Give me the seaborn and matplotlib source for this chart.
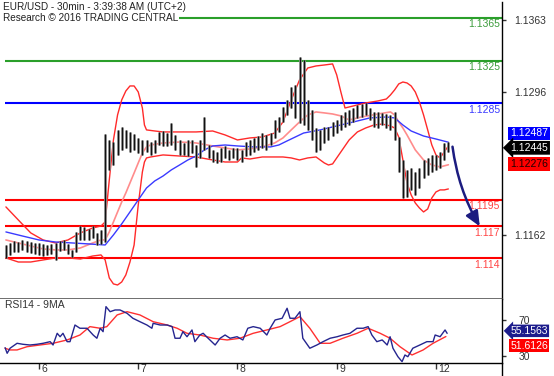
import matplotlib
matplotlib.use("Agg")
import matplotlib.pyplot as plt
import matplotlib.transforms as mtransforms
from matplotlib.lines import Line2D
import seaborn as sns
import numpy as np

sns.set_style("white")
plt.rcParams['font.family'] = ['Liberation Sans', 'DejaVu Sans']

# ---------------- data (x in trading hours from start of day "6") ----------------
day_ticks = [0, 24, 48, 72, 96]
day_labels = ["6", "7", "8", "9", "12"]

bar_hours = list(range(-8, 100))
bar_high = [1.11526, 1.11545, 1.11564, 1.11554, 1.11573, 1.11564, 1.11554, 1.11545, 1.11545, 1.11536,
            1.11526, 1.11536, 1.11545, 1.11564, 1.11573, 1.11536, 1.11480, 1.11648, 1.11704, 1.11694,
            1.11676, 1.11704, 1.11639, 1.11667, 1.12564, 1.12508, 1.12489, 1.12602, 1.12630, 1.12602,
            1.12583, 1.12564, 1.12527, 1.12508, 1.12508, 1.12489, 1.12508, 1.12583, 1.12592, 1.12573,
            1.12667, 1.12555, 1.12508, 1.12480, 1.12508, 1.12508, 1.12461, 1.12508, 1.12723, 1.12461,
            1.12415, 1.12396, 1.12433, 1.12452, 1.12415, 1.12433, 1.12433, 1.12415, 1.12489, 1.12508,
            1.12527, 1.12545, 1.12573, 1.12555, 1.12573, 1.12695, 1.12723, 1.12817, 1.12882, 1.13004,
            1.13022, 1.13284, 1.13256, 1.12882, 1.12789, 1.12620, 1.12602, 1.12630, 1.12630, 1.12676,
            1.12695, 1.12742, 1.12770, 1.12789, 1.12807, 1.12835, 1.12845, 1.12854, 1.12807, 1.12770,
            1.12770, 1.12761, 1.12751, 1.12742, 1.12770, 1.12536, 1.12321, 1.12228, 1.12246, 1.12209,
            1.12246, 1.12321, 1.12340, 1.12368, 1.12368, 1.12396, 1.12480, 1.12489]
bar_low = [1.11405, 1.11433, 1.11461, 1.11461, 1.11480, 1.11461, 1.11452, 1.11442, 1.11433, 1.11423,
           1.11433, 1.11442, 1.11386, 1.11470, 1.11480, 1.11442, 1.11414, 1.11461, 1.11573, 1.11573,
           1.11573, 1.11592, 1.11526, 1.11536, 1.11554, 1.12228, 1.12274, 1.12368, 1.12415, 1.12433,
           1.12396, 1.12415, 1.12386, 1.12368, 1.12396, 1.12368, 1.12386, 1.12461, 1.12452, 1.12452,
           1.12461, 1.12415, 1.12368, 1.12368, 1.12358, 1.12386, 1.12256, 1.12340, 1.12415, 1.12340,
           1.12302, 1.12293, 1.12302, 1.12340, 1.12321, 1.12340, 1.12321, 1.12302, 1.12358, 1.12368,
           1.12396, 1.12415, 1.12433, 1.12415, 1.12461, 1.12527, 1.12583, 1.12676, 1.12742, 1.12807,
           1.12714, 1.12667, 1.12648, 1.12602, 1.12508, 1.12396, 1.12415, 1.12480, 1.12508, 1.12545,
           1.12573, 1.12602, 1.12630, 1.12648, 1.12676, 1.12714, 1.12723, 1.12742, 1.12695, 1.12630,
           1.12620, 1.12648, 1.12620, 1.12602, 1.12508, 1.12209, 1.11966, 1.11975, 1.12041, 1.11994,
           1.12059, 1.12153, 1.12181, 1.12209, 1.12228, 1.12246, 1.12321, 1.12396]
last_close = 1.12445

upper_hours = [-8, -5, -2, 1, 4, 7, 10, 13, 15, 16, 17, 18, 19, 20, 21, 22, 23, 24, 25, 25.5,
               26, 28, 30, 34, 38, 42, 45, 48, 51, 54, 57, 59, 61, 63, 65, 67, 69, 71, 72, 73,
               74, 76, 79, 82, 84, 85, 86, 87, 88, 89, 90, 91, 92, 93, 94, 95, 96, 97, 98, 99]
upper_band = [1.11882, 1.11760, 1.11639, 1.11573, 1.11545, 1.11573, 1.11639, 1.11685, 1.11704, 1.11741,
              1.12134, 1.12508, 1.12742, 1.12882, 1.12966, 1.13013, 1.13013, 1.12957, 1.12807, 1.12648,
              1.12602, 1.12592, 1.12583, 1.12583, 1.12583, 1.12592, 1.12555, 1.12508, 1.12527, 1.12536,
              1.12573, 1.12676, 1.12882, 1.13069, 1.13181, 1.13200, 1.13209, 1.13219, 1.13116, 1.12957,
              1.12807, 1.12826, 1.12854, 1.12873, 1.12891, 1.12929, 1.12976, 1.13032, 1.13050, 1.13041,
              1.13013, 1.12957, 1.12863, 1.12742, 1.12602, 1.12461, 1.12368, 1.12340, 1.12396, 1.12452]

middle_hours = [-8, -5, -2, 1, 4, 7, 10, 13, 15, 16, 17, 18, 19, 20, 21, 22, 23, 24, 25, 26,
                27, 30, 34, 38, 42, 45, 48, 51, 54, 57, 59, 61, 63, 65, 67, 69, 71, 73, 75, 78,
                82, 85, 86, 87, 88, 89, 91, 93, 95, 97, 99]
middle_band = [1.11573, 1.11545, 1.11517, 1.11489, 1.11480, 1.11480, 1.11498, 1.11545, 1.11573, 1.11573,
               1.11648, 1.11741, 1.11835, 1.11928, 1.12013, 1.12106, 1.12199, 1.12293, 1.12386, 1.12443,
               1.12461, 1.12480, 1.12489, 1.12480, 1.12452, 1.12433, 1.12415, 1.12424, 1.12443, 1.12480,
               1.12527, 1.12602, 1.12676, 1.12742, 1.12770, 1.12761, 1.12751, 1.12733, 1.12695, 1.12723,
               1.12751, 1.12770, 1.12742, 1.12676, 1.12620, 1.12555, 1.12415, 1.12321, 1.12274, 1.12256,
               1.12276]

lower_hours = [-8, -5, -2, 1, 4, 7, 10, 13, 15, 16, 17, 18, 19, 20, 21, 22, 23, 24, 25, 25.5,
               26, 27, 30, 34, 38, 42, 45, 48, 49, 51, 54, 57, 59, 61, 63, 65, 67, 69, 70, 71,
               73, 75, 77, 79, 81, 83, 85, 86, 87, 88, 89, 90, 91, 92, 93, 94, 95, 96, 97, 98, 99]
lower_band = [1.11405, 1.11367, 1.11367, 1.11386, 1.11405, 1.11405, 1.11395, 1.11423, 1.11433, 1.11386,
              1.11218, 1.11162, 1.11152, 1.11180, 1.11246, 1.11367, 1.11526, 1.11900, 1.12209, 1.12302,
              1.12340, 1.12349, 1.12368, 1.12358, 1.12349, 1.12321, 1.12302, 1.12302, 1.12340, 1.12330,
              1.12349, 1.12349, 1.12349, 1.12340, 1.12321, 1.12340, 1.12349, 1.12293, 1.12274, 1.12284,
              1.12396, 1.12508, 1.12583, 1.12620, 1.12648, 1.12657, 1.12639, 1.12620, 1.12536, 1.12321,
              1.12106, 1.11994, 1.11919, 1.11872, 1.11835, 1.11863, 1.11966, 1.12022, 1.12041, 1.12041,
              1.12050]

ma_hours = [-8, -4, 0, 4, 8, 12, 16, 18, 20, 22, 24, 26, 28, 30, 32, 34, 36, 38, 40, 42,
            45, 48, 52, 56, 58, 60, 62, 64, 68, 72, 76, 80, 84, 86, 88, 90, 93, 96, 99]
ma_line = [1.11648, 1.11610, 1.11573, 1.11554, 1.11545, 1.11536, 1.11526, 1.11620, 1.11723, 1.11835,
           1.11947, 1.12059, 1.12125, 1.12171, 1.12228, 1.12274, 1.12321, 1.12358, 1.12415, 1.12452,
           1.12461, 1.12452, 1.12443, 1.12443, 1.12461, 1.12499, 1.12536, 1.12573, 1.12602, 1.12639,
           1.12676, 1.12714, 1.12723, 1.12714, 1.12648, 1.12592, 1.12545, 1.12517, 1.12487]

levels = [1.1365, 1.1325, 1.1285, 1.1195, 1.117, 1.114]
level_labels = ["1.1365", "1.1325", "1.1285", "1.1195", "1.117", "1.114"]
level_colors = ["#2a9f2a", "#2a9f2a", "#0000ff", "#ff0000", "#ff0000", "#ff0000"]
level_text_colors = ["#3c9c3c", "#3c9c3c", "#3a3aff", "#ff4444", "#ff4444", "#ff4444"]
target_level = 1.117

price_ticks = [1.1363, 1.1296, 1.1162]
value_labels = {"ma": 1.12487, "close": 1.12445, "mid": 1.12276}

rsi_hours = [-8.2, -7.7, -7.0, -5.3, -3.9, -2.2, -0.5, 1.0, 2.7, 3.4,
             4.4, 5.1, 5.8, 6.8, 7.5, 8.7, 9.9, 11.6, 13.1, 14.0,
             14.8, 15.5, 16.2, 17.2, 18.4, 19.6, 21.3, 22.7, 24.4, 26.1,
             27.3, 27.6, 29.3, 31.0, 32.2, 32.9, 34.1, 34.8, 35.8, 37.0,
             37.7, 38.9, 39.7, 40.9, 42.6, 43.8, 45.0, 46.2, 47.9, 49.3,
             50.5, 51.8, 53.5, 55.1, 55.9, 57.1, 58.8, 60.0, 60.7, 61.9,
             63.1, 63.8, 65.5, 67.2, 68.7, 70.4, 72.1, 73.5, 75.2, 76.9,
             78.4, 79.6, 80.5, 81.7, 83.0, 84.2, 84.9, 85.6, 86.8, 87.8,
             88.5, 89.2, 90.4, 92.1, 93.8, 95.3, 95.8, 97.0, 98.2, 98.7]
rsi_vals = [39.2, 33.0, 38.6, 44.1, 43.0, 42.2, 43.0, 44.1, 45.9, 42.2,
            55.2, 51.4, 55.2, 45.9, 45.9, 64.4, 60.8, 60.8, 53.3, 49.7,
            60.8, 57.0, 84.8, 79.2, 81.1, 81.1, 77.4, 71.9, 68.1, 64.4,
            60.8, 66.3, 64.4, 64.4, 62.6, 49.7, 49.7, 57.0, 51.4, 58.9,
            45.9, 53.3, 55.2, 49.7, 42.2, 49.7, 53.3, 49.7, 51.4, 47.8,
            60.8, 62.6, 60.8, 53.3, 60.8, 70.0, 71.9, 83.0, 71.9, 71.9,
            79.2, 49.7, 38.6, 42.2, 45.9, 49.7, 51.4, 53.3, 55.2, 60.8,
            60.8, 62.6, 53.3, 45.9, 47.8, 42.2, 51.4, 38.6, 29.2, 23.7,
            31.1, 29.2, 38.6, 42.2, 45.9, 45.9, 53.3, 51.4, 58.9, 55.1563]
rsi_ma_hours = [-8.2, -7.0, -5.3, -2.9, 0.2, 3.4, 6.8, 9.9, 12.3, 14.8,
                16.4, 18.9, 21.3, 24.4, 27.6, 31.0, 33.4, 35.8, 38.9, 42.1,
                45.5, 48.6, 51.8, 55.1, 58.3, 60.7, 63.1, 65.5, 68.0, 70.4,
                73.5, 76.9, 79.6, 82.5, 84.9, 87.3, 90.2, 92.9, 95.3, 98.4]
rsi_ma_vals = [38.6, 36.7, 36.7, 40.3, 42.2, 44.1, 47.8, 53.3, 62.6, 60.8,
               62.6, 75.6, 79.2, 75.6, 68.1, 64.4, 60.8, 55.2, 53.3, 49.7,
               47.8, 49.7, 55.2, 58.9, 62.6, 68.1, 73.7, 60.8, 44.1, 44.1,
               49.7, 55.2, 60.8, 55.2, 49.7, 40.3, 31.1, 36.7, 44.1, 51.6126]
rsi_ticks = [70, 30]

# ---------------- figure ----------------
W, H = 554, 376
fig = plt.figure(figsize=(W / 100, H / 100), dpi=100)


def px_axes(x0, y0, x1, y1):
    return fig.add_axes([x0 / W, 1 - y1 / H, (x1 - x0) / W, (y1 - y0) / H])


ax = px_axes(0, 2, 502, 299)
rx = px_axes(0, 299, 502, 363)
XLIM = (-9.43, 111.97)
for a in (ax, rx):
    a.set_xlim(*XLIM)
    a.set_facecolor("white")
ax.set_ylim(1.11021, 1.13798)
rx.set_ylim(22.2, 93.3)

# level lines
ax.hlines(levels, xmin=-8.3, xmax=XLIM[1], colors=level_colors, lw=1.5, zorder=1)
for lv, lab, c in zip(levels, level_labels, level_text_colors):
    ax.annotate(lab, xy=(1, lv), xycoords=("axes fraction", "data"), xytext=(-1.5, -1.2),
                textcoords="offset points", ha="right", va="top", color=c, fontsize=7.5)

# bands and MA
sns.lineplot(x=middle_hours, y=middle_band, ax=ax, color="#ff8c8c", lw=1.2, sort=False, estimator=None, zorder=2)
sns.lineplot(x=upper_hours, y=upper_band, ax=ax, color="#ff2a2a", lw=1.0, sort=False, estimator=None, zorder=2)
sns.lineplot(x=lower_hours, y=lower_band, ax=ax, color="#ff2a2a", lw=1.0, sort=False, estimator=None, zorder=2)
sns.lineplot(x=ma_hours, y=ma_line, ax=ax, color="#3a3aff", lw=1.0, sort=False, estimator=None, zorder=2)

# bars
ax.vlines(bar_hours, bar_low, bar_high, color="#8a8a8a", lw=2.0, zorder=3)
ax.vlines(bar_hours, bar_low, bar_high, color="#111111", lw=0.8, zorder=4)

# projection arrow
ax.annotate("", xy=(bar_hours[-1] + 7.6, target_level), xytext=(bar_hours[-1] + 1, last_close),
            arrowprops=dict(arrowstyle="-|>,head_length=0.9,head_width=0.4", color="#1c1c80",
                            lw=1.8, connectionstyle="arc3,rad=0.1", shrinkA=0, shrinkB=0), zorder=5)

# axes styling main
for s in ("left", "top"):
    ax.spines[s].set_visible(False)
ax.spines["right"].set_color("black")
ax.spines["right"].set_linewidth(1.0)
ax.spines["bottom"].set_color("#555555")
ax.spines["bottom"].set_linewidth(1.2)
ax.set_xticks([])
ax.yaxis.tick_right()
ax.set_yticks(price_ticks)
ax.set_yticklabels([f"{t:.4f}" for t in price_ticks])
ax.tick_params(axis="y", direction="out", length=3, width=1, pad=6, labelsize=7.5,
               colors="#333333", right=True, left=False)
ax.set_xlabel("")
ax.set_ylabel("")

# value boxes main
box_kw = dict(xycoords=("axes fraction", "data"), textcoords="offset points", va="center",
              ha="left", fontsize=7.5, annotation_clip=False)
ax.annotate(f"{value_labels['ma']:.5f}", xy=(1, value_labels["ma"]), xytext=(6, 6.3), color="white",
            bbox=dict(boxstyle="square,pad=0.18", fc="#0000ff", ec="none"), **box_kw)
ax.annotate(f"{value_labels['close']:.5f}", xy=(1, value_labels["close"]), xytext=(6, -0.8), color="white",
            bbox=dict(boxstyle="larrow,pad=0.18", fc="black", ec="none"), **box_kw)
ax.annotate(f"{value_labels['mid']:.5f}", xy=(1, value_labels["mid"]), xytext=(6, 0.4), color="#220000",
            bbox=dict(boxstyle="square,pad=0.18", fc="#ff0000", ec="none"), **box_kw)

# RSI panel
sns.lineplot(x=rsi_ma_hours, y=rsi_ma_vals, ax=rx, color="#ff3030", lw=1.0, sort=False, estimator=None, zorder=2)
sns.lineplot(x=rsi_hours, y=rsi_vals, ax=rx, color="#25258f", lw=1.0, sort=False, estimator=None, zorder=3)
for s in ("left", "top"):
    rx.spines[s].set_visible(False)
rx.spines["right"].set_color("black")
rx.spines["bottom"].set_color("black")
rx.spines["right"].set_linewidth(1.0)
rx.spines["bottom"].set_linewidth(1.0)
rx.yaxis.tick_right()
rx.set_yticks(rsi_ticks)
rx.set_yticklabels([str(t) for t in rsi_ticks])
rx.tick_params(axis="y", direction="out", length=3, width=1, pad=9, labelsize=7.5,
               colors="#333333", right=True, left=False)
rx.set_xticks(day_ticks)
rx.set_xticklabels(day_labels)
rx.tick_params(axis="x", direction="out", length=4, width=1, pad=-3.2, labelsize=7.5,
               colors="#333333", bottom=True)
offset = mtransforms.ScaledTranslation(1.8 / 72, 0, fig.dpi_scale_trans)
for lab in rx.get_xticklabels():
    lab.set_ha("left")
    lab.set_transform(lab.get_transform() + offset)
rx.set_xlabel("")
rx.set_ylabel("")

rsi_kw = dict(xycoords=("axes fraction", "data"), textcoords="offset points", va="center",
              ha="left", fontsize=7.5, annotation_clip=False, color="white")
rx.annotate(f"{rsi_vals[-1]:.4f}", xy=(1, rsi_vals[-1]), xytext=(6, 1.8),
            bbox=dict(boxstyle="larrow,pad=0.12", fc="#1c1c8c", ec="none"), **rsi_kw)
rx.annotate(f"{rsi_ma_vals[-1]:.4f}", xy=(1, rsi_ma_vals[-1]), xytext=(6, -6.6),
            bbox=dict(boxstyle="square,pad=0.12", fc="#ff0000", ec="none"), **rsi_kw)

fig.text(5 / W, 1 - 305 / H, "RSI14 - 9MA", fontsize=7.5, color="#333333", va="center", ha="left")

# header
fig.text(3 / W, 1 - 7 / H, "EUR/USD - 30min - 3:39:38 AM (UTC+2)", fontsize=7.2, color="#222222",
         va="center", ha="left", bbox=dict(boxstyle="square,pad=0.1", fc="white", ec="none"))
fig.text(3 / W, 1 - 18 / H, "Research \u00a9 2016 TRADING CENTRAL", fontsize=7.2, color="#222222",
         va="center", ha="left", bbox=dict(boxstyle="square,pad=0.12", fc="white", ec="none"))

# right axis line continuation below the x axis
fig.add_artist(Line2D([502 / W, 502 / W], [0, 1 - 363 / H], color="black", lw=1.0))

fig.savefig("out.png", dpi=100)
